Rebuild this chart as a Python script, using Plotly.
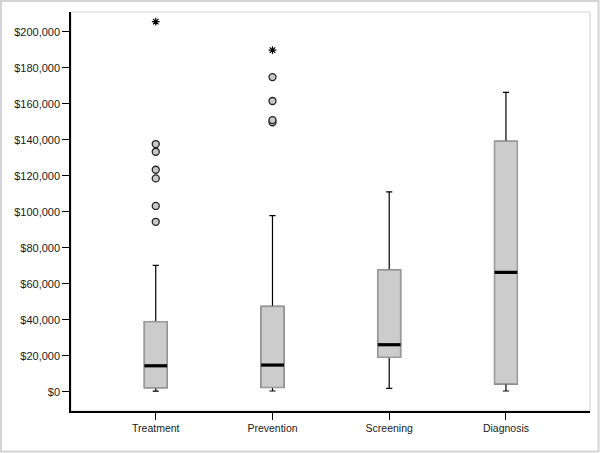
import plotly.graph_objects as go

categories = ["Treatment", "Prevention", "Screening", "Diagnosis"]
lower_whisker = [300, 400, 1900, 400]
q1_vals = [2200, 2400, 19100, 4400]
medians = [14400, 14800, 26100, 66300]
q3_vals = [38900, 47400, 67600, 139100]
upper_whisker = [70200, 97800, 111000, 166300]

outlier_cat = [0, 0, 0, 0, 0, 0, 1, 1, 1, 1]
outlier_vals = [94400, 103200, 118500, 123300, 133300, 137600, 149700, 150900, 161500, 174800]
extreme_cat = [0, 1]
extreme_vals = [205600, 189800]

tick_vals = [0, 20000, 40000, 60000, 80000, 100000, 120000, 140000, 160000, 180000, 200000]
tick_text = ["$0", "$20,000", "$40,000", "$60,000", "$80,000", "$100,000",
             "$120,000", "$140,000", "$160,000", "$180,000", "$200,000"]

pos = list(range(len(categories)))
bw = 0.195

fig = go.Figure()
# whiskers (black)
fig.add_trace(go.Box(
    x=pos, q1=q1_vals, median=medians, q3=q3_vals,
    lowerfence=lower_whisker, upperfence=upper_whisker,
    width=bw, whiskerwidth=0.27, fillcolor="#cccccc",
    line=dict(color="black", width=1.2), boxpoints=False, hoverinfo="skip",
    showlegend=False))
# boxes (gray outline)
fig.add_trace(go.Box(
    x=pos, q1=q1_vals, median=medians, q3=q3_vals,
    lowerfence=q1_vals, upperfence=q3_vals,
    width=bw, fillcolor="#cccccc",
    line=dict(color="#9a9a9a", width=1.5), boxpoints=False,
    showlegend=False))
# medians (thick black)
mx, my = [], []
for p, m in zip(pos, medians):
    mx += [p - bw / 2, p + bw / 2, None]
    my += [m, m, None]
fig.add_trace(go.Scatter(x=mx, y=my, mode="lines",
                         line=dict(color="black", width=3.2), showlegend=False))
# outliers
fig.add_trace(go.Scatter(x=outlier_cat, y=outlier_vals, mode="markers",
                         marker=dict(symbol="circle", size=7, color="#c8c8c8",
                                     line=dict(color="#222222", width=1.3)),
                         showlegend=False))
fig.add_trace(go.Scatter(x=extreme_cat, y=extreme_vals, mode="markers",
                         marker=dict(symbol="asterisk-open", size=6.5, color="black",
                                     line=dict(color="black", width=1.2)),
                         showlegend=False))

L, R, T, B = 71, 10, 12, 42
pw, ph = 600 - L - R, 453 - T - B
fig.update_layout(
    width=600, height=453,
    margin=dict(l=L, r=R, t=T, b=B, pad=0, autoexpand=False),
    plot_bgcolor="white", paper_bgcolor="white",
    boxmode="overlay",
    font=dict(family="Liberation Sans, Arial, sans-serif", size=11, color="#1a1a1a"),
    shapes=[
        dict(type="rect", xref="paper", yref="paper", x0=0, x1=1, y0=0, y1=1,
             line=dict(color="#d4d4d4", width=1.2), layer="below"),
        dict(type="rect", xref="paper", yref="paper",
             x0=(1 - L) / pw, x1=(598.5 - L) / pw,
             y0=(T + ph - 451.5) / ph, y1=(T + ph - 1) / ph,
             line=dict(color="#d4d4d4", width=2), layer="below"),
    ],
)
fig.update_xaxes(range=[-0.726, 3.72], tickmode="array", tickvals=pos, ticktext=categories,
                 showgrid=False, zeroline=False, showline=True, linecolor="black",
                 linewidth=1.5, ticks="outside", ticklen=7, tickcolor="black", tickwidth=1.2,
                 tickfont=dict(size=10.5), automargin=False)
fig.update_yaxes(range=[-10720, 210950], tickmode="array", tickvals=tick_vals, ticktext=tick_text,
                 showgrid=False, zeroline=False, showline=True, linecolor="black",
                 linewidth=1.5, ticks="outside", ticklen=7, tickcolor="black", tickwidth=1.2,
                 tickfont=dict(size=11), automargin=False)

fig.write_html("out.html", config={"displayModeBar": False},
               post_script="document.body.style.margin='0';document.body.style.overflow='hidden';")
